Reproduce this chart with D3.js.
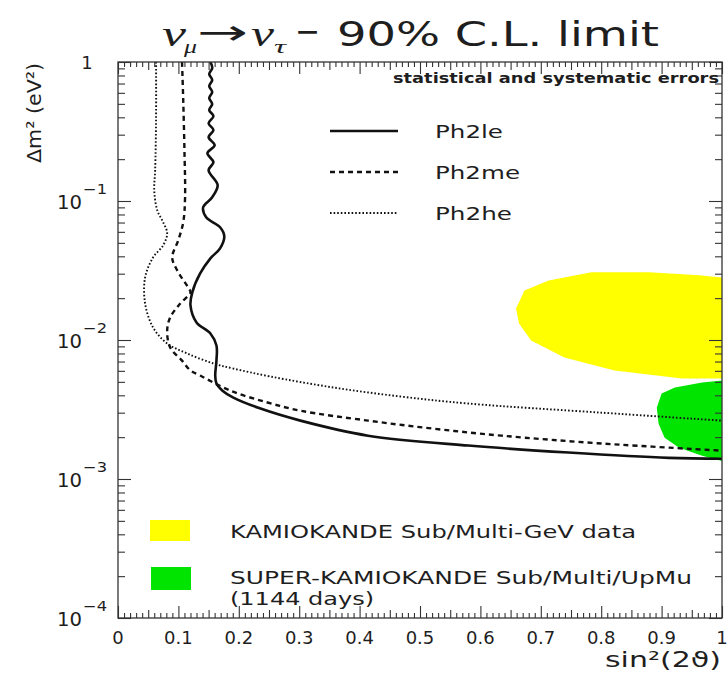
<!DOCTYPE html>
<html><head><meta charset="utf-8">
<script src="https://cdn.jsdelivr.net/npm/d3@7"></script>
<style>
body{margin:0;background:#fff}
svg{display:block}
text{font-family:"DejaVu Sans",sans-serif;fill:#1e1e1e}
</style>
</head><body>
<svg id="c" width="728" height="674"></svg>
<script>
// ---------- data ----------
const seriesNames = ["Ph2le", "Ph2me", "Ph2he"];

const ph2leSin2 = [0.153,0.156,0.151,0.156,0.151,0.156,0.151,0.156,0.151,0.158,0.150,0.158,0.150,0.160,0.148,0.158,0.150,0.165,0.156,0.141,0.146,0.169,0.176,0.169,0.153,0.136,0.123,0.120,0.130,0.153,0.163,0.163,0.161,0.163,0.173,0.191,0.236,0.302,0.414,0.580,0.746,0.912,1.0];
const ph2leDm2  = [1.0,0.905,0.819,0.742,0.671,0.608,0.550,0.498,0.451,0.408,0.363,0.324,0.288,0.252,0.221,0.190,0.1665,0.130,0.1064,0.0901,0.0763,0.0647,0.0557,0.0456,0.0387,0.0301,0.0220,0.01773,0.01337,0.01114,0.00913,0.00711,0.00555,0.00486,0.00432,0.00385,0.00321,0.00263,0.00205,0.00174,0.00155,0.00142,0.00140];

const ph2meSin2 = [0.106,0.108,0.110,0.111,0.108,0.0997,0.0897,0.098,0.116,0.120,0.103,0.0864,0.0814,0.0864,0.106,0.120,0.136,0.186,0.2475,0.302,0.414,0.523,0.635,0.801,1.0];
const ph2meDm2  = [1.0,0.532,0.232,0.1047,0.0703,0.0521,0.0393,0.0317,0.0239,0.0220,0.0183,0.01452,0.01170,0.00883,0.00711,0.00603,0.00555,0.00432,0.00355,0.00310,0.00263,0.00230,0.00205,0.00180,0.00160];

const ph2heSin2 = [0.063,0.063,0.0615,0.060,0.065,0.0748,0.0814,0.0748,0.0581,0.0449,0.0449,0.0581,0.0814,0.1146,0.1578,0.191,0.2525,0.357,0.468,0.580,0.801,1.0];
const ph2heDm2  = [1.0,0.382,0.1665,0.1195,0.0858,0.0703,0.0586,0.0480,0.0393,0.0282,0.0183,0.01231,0.00944,0.00800,0.00678,0.00623,0.00546,0.00455,0.00392,0.00349,0.00300,0.00263];

const regionNames = ["KAMIOKANDE Sub/Multi-GeV data", "SUPER-KAMIOKANDE Sub/Multi/UpMu", "(1144 days)"];
const kamSin2 = [0.659,0.664,0.684,0.739,0.822,0.934,1.0,1.0,0.962,0.879,0.784,0.713,0.673];
const kamDm2  = [0.01686,0.01315,0.00991,0.00748,0.00603,0.00528,0.00528,0.0282,0.0292,0.0307,0.0307,0.0268,0.0227];
const skSin2 = [1.0,0.967,0.922,0.900,0.892,0.895,0.905,0.929,0.967,1.0];
const skDm2  = [0.00511,0.00494,0.00455,0.00412,0.00326,0.00250,0.00198,0.00168,0.00147,0.00135];

const xTickValues = [0,0.1,0.2,0.3,0.4,0.5,0.6,0.7,0.8,0.9,1];
const xTickLabels = ["0","0.1","0.2","0.3","0.4","0.5","0.6","0.7","0.8","0.9","1"];
const yTickValues = [1,0.1,0.01,0.001,0.0001];
const yTickExponents = ["", "−1", "−2", "−3", "−4"];
const noteText = "statistical and systematic errors";

// ---------- layout ----------
const L = 118, R = 722, T = 62, B = 618;
const svg = d3.select("#c");
const x = d3.scaleLinear().domain([0, 1]).range([L, R]);
const y = d3.scaleLog().domain([1e-4, 1]).range([B, T]);

svg.append("defs").append("clipPath").attr("id", "clip")
  .append("rect").attr("x", L).attr("y", T).attr("width", R - L).attr("height", B - T);

const plot = svg.append("g").attr("clip-path", "url(#clip)");

// filled regions
const area = d3.line().x(d => x(d[0])).y(d => y(d[1])).curve(d3.curveLinearClosed);
plot.append("path").attr("d", area(d3.zip(kamSin2, kamDm2))).attr("fill", "#ffff00");
plot.append("path").attr("d", area(d3.zip(skSin2, skDm2))).attr("fill", "#00e400");

// curves
const line = d3.line().x(d => x(d[0])).y(d => y(d[1])).curve(d3.curveCatmullRom.alpha(0.5));
const styles = [
  {w: 2.6, dash: null},
  {w: 2.4, dash: "5,4"},
  {w: 1.9, dash: "1.6,2.0"}
];
const series = [d3.zip(ph2leSin2, ph2leDm2), d3.zip(ph2meSin2, ph2meDm2), d3.zip(ph2heSin2, ph2heDm2)];
series.forEach((s, i) => {
  plot.append("path").attr("d", line(s)).attr("fill", "none")
    .attr("stroke", "#111").attr("stroke-width", styles[i].w)
    .attr("stroke-dasharray", styles[i].dash);
});

// ---------- axes / ticks ----------
const xMinor = d3.range(0, 101).filter(i => i % 5 !== 0).map(i => i / 100);
const xMid = d3.range(5, 100, 10).map(i => i / 100);
const yMinor = [];
[-4, -3, -2, -1].forEach(e => d3.range(2, 10).forEach(k => yMinor.push(k * Math.pow(10, e))));

function tickGroup(axis, transform) {
  svg.append("g").attr("transform", transform).call(axis.tickFormat(""))
    .call(g => g.select(".domain").remove())
    .call(g => g.selectAll("line").attr("stroke", "#333").attr("stroke-width", 1.1));
}
tickGroup(d3.axisBottom(x).tickValues(xTickValues).tickSize(-12), `translate(0,${B})`);
tickGroup(d3.axisBottom(x).tickValues(xMid).tickSize(-8), `translate(0,${B})`);
tickGroup(d3.axisBottom(x).tickValues(xMinor).tickSize(-5), `translate(0,${B})`);
tickGroup(d3.axisTop(x).tickValues(xTickValues).tickSize(-12), `translate(0,${T})`);
tickGroup(d3.axisTop(x).tickValues(xMid).tickSize(-8), `translate(0,${T})`);
tickGroup(d3.axisTop(x).tickValues(xMinor).tickSize(-5), `translate(0,${T})`);
tickGroup(d3.axisLeft(y).tickValues(yTickValues).tickSize(-13), `translate(${L},0)`);
tickGroup(d3.axisLeft(y).tickValues(yMinor).tickSize(-7), `translate(${L},0)`);
tickGroup(d3.axisRight(y).tickValues(yTickValues).tickSize(-13), `translate(${R},0)`);
tickGroup(d3.axisRight(y).tickValues(yMinor).tickSize(-7), `translate(${R},0)`);

svg.append("rect").attr("x", L).attr("y", T).attr("width", R - L).attr("height", B - T)
  .attr("fill", "none").attr("stroke", "#333").attr("stroke-width", 1.3);

// ---------- text helpers ----------
function txt(str, xx, yy, size, o = {}) {
  const t = svg.append("text").attr("x", xx).attr("y", yy).attr("font-size", size).text(str);
  if (o.anchor) t.attr("text-anchor", o.anchor);
  if (o.italic) t.attr("font-style", "italic");
  if (o.weight) t.attr("font-weight", o.weight);
  if (o.family) t.style("font-family", o.family);
  if (o.len) t.attr("textLength", o.len).attr("lengthAdjust", "spacingAndGlyphs");
  return t;
}

// x tick labels
xTickValues.forEach((v, i) => txt(xTickLabels[i], x(v), 644, 18, {anchor: "middle"}));

// y tick labels
yTickValues.forEach((v, i) => {
  const yy = y(v);
  if (yTickExponents[i] === "") {
    txt("1", 87, yy + 7, 18, {anchor: "middle"});
  } else {
    txt("10", 82, yy + 8, 20, {anchor: "end", len: 25});
    txt(yTickExponents[i], 83, yy - 7, 14, {len: 24});
  }
});

// axis titles
svg.append("text").attr("transform", "translate(41,113) rotate(-90)")
  .attr("text-anchor", "middle").attr("font-size", 20)
  .attr("textLength", 100).attr("lengthAdjust", "spacingAndGlyphs")
  .text("Δm² (eV²)");
txt("sin²(2ϑ)", 605, 667, 22, {len: 116});

// title
const serif = "'Liberation Serif','DejaVu Serif',serif";
txt("ν", 162, 46, 36, {italic: true, family: serif, len: 24});
txt("μ", 184, 53, 19, {italic: true, family: serif, len: 13});
txt("→", 197, 44, 34, {len: 51});
txt("ν", 251, 46, 36, {italic: true, family: serif, len: 23});
txt("τ", 274, 53, 19, {italic: true, family: serif, len: 12});
txt("−", 295, 43, 34, {len: 25});
txt("90% C.L. limit", 337, 46, 33, {len: 322});

// note
txt(noteText, 393, 83, 14, {weight: "bold", len: 326});

// upper legend (line styles)
const legY = [131, 172, 213];
const legLen = [68, 85, 77];
seriesNames.forEach((n, i) => {
  svg.append("line").attr("x1", 330).attr("x2", 398).attr("y1", legY[i]).attr("y2", legY[i])
    .attr("stroke", "#111").attr("stroke-width", styles[i].w)
    .attr("stroke-dasharray", styles[i].dash);
  txt(n, 435, legY[i] + 7, 18, {len: legLen[i]});
});

// lower legend (regions)
svg.append("rect").attr("x", 150).attr("y", 520).attr("width", 40).attr("height", 21).attr("fill", "#ffff00");
svg.append("rect").attr("x", 151).attr("y", 567).attr("width", 40).attr("height", 23).attr("fill", "#00e400");
txt(regionNames[0], 230, 538, 18, {len: 406});
txt(regionNames[1], 230, 584, 17.5, {len: 462});
txt(regionNames[2], 230, 605, 17.5, {len: 144});
</script>
</body></html>
